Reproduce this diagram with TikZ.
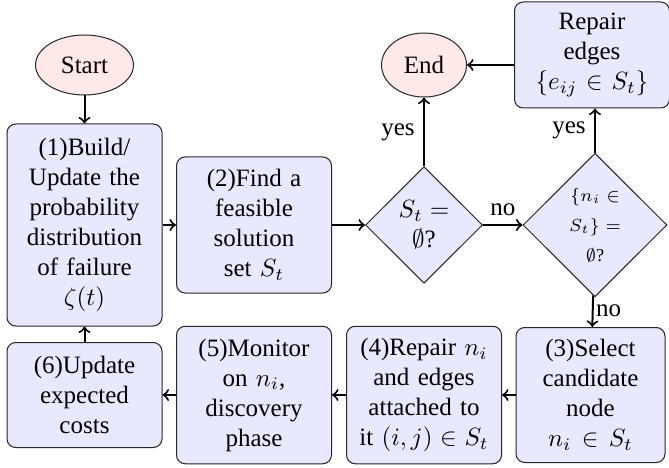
\documentclass[tikz,border=0pt]{standalone}
\usepackage{fontspec}
\setmainfont{Liberation Serif}
\usetikzlibrary{shapes.geometric,arrows.meta}
\begin{document}
\begin{tikzpicture}[x=1pt,y=1pt,
  font=\fontsize{10}{12}\selectfont,
  box/.style={rectangle,rounded corners=3.5pt,draw=black!85,fill=blue!9,
    align=center,text width=56pt,inner sep=3pt},
  term/.style={ellipse,draw=black!85,fill=red!9,inner sep=0pt},
  dec/.style={diamond,aspect=1,draw=black!85,fill=blue!9,align=center,inner sep=0pt},
  arr/.style={->,thick,>=to}]
\useasboundingbox (0,0) rectangle (267.6,-187.2);
\node[term,minimum width=39.2pt,minimum height=24pt] (start) at (33.8,-26) {Start};
\node[term,minimum width=34pt,minimum height=25.6pt] (end) at (169.6,-26) {End};
\node[box,minimum height=42.4pt] (rep) at (236.8,-22) {Repair\\edges\\$\{e_{ij}\in S_t\}$};
\node[box,minimum height=80.8pt] (b1) at (33.8,-90) {(1)Build/\\Update the\\probability\\distribution\\of failure\\$\zeta(t)$};
\node[box,minimum height=54.4pt] (b2) at (101.6,-90) {(2)Find a\\feasible\\solution\\set $S_t$};
\node[dec,minimum width=46.8pt,minimum height=46.6pt] (d1) at (169.6,-90) {$S_t =$\\$\emptyset$?};
\node[dec,minimum width=57.6pt,minimum height=57.4pt,font=\fontsize{7.3}{12}\selectfont] (d2) at (238,-90) {$\{n_i \in$\\$S_t\} =$\\$\emptyset$?};
\node[box,text width=53.6pt,minimum height=54pt] (b3) at (236.2,-158) {(3)Select\\candidate\\node\\$n_i\in S_t$};
\node[box,minimum height=55pt] (b4) at (169.6,-158) {(4)Repair $n_i$\\and edges\\attached to\\it $(i,j)\in S_t$};
\node[box,minimum height=55pt] (b5) at (101.6,-158) {(5)Monitor\\on $n_i$,\\discovery\\phase};
\node[box,minimum height=42pt] (b6) at (33.8,-158) {(6)Update\\expected\\costs};
\draw[arr] (start) -- (b1);
\draw[arr] (b1) -- (b2);
\draw[arr] (b2) -- (d1);
\draw[arr] (d1) -- node[left] {yes} (end);
\draw[arr] (d1) -- node[above] {no} (d2);
\draw[arr] (d2.north) -- node[left] {yes} (d2.north |- rep.south);
\draw[arr] (rep.west |- end.east) -- (end.east);
\draw[arr] (d2) -- node[right,inner sep=1pt] {no} (b3);
\draw[arr] (b3) -- (b4);
\draw[arr] (b4) -- (b5);
\draw[arr] (b5) -- (b6);
\draw[arr] (b6) -- (b1);
\end{tikzpicture}
\end{document}
